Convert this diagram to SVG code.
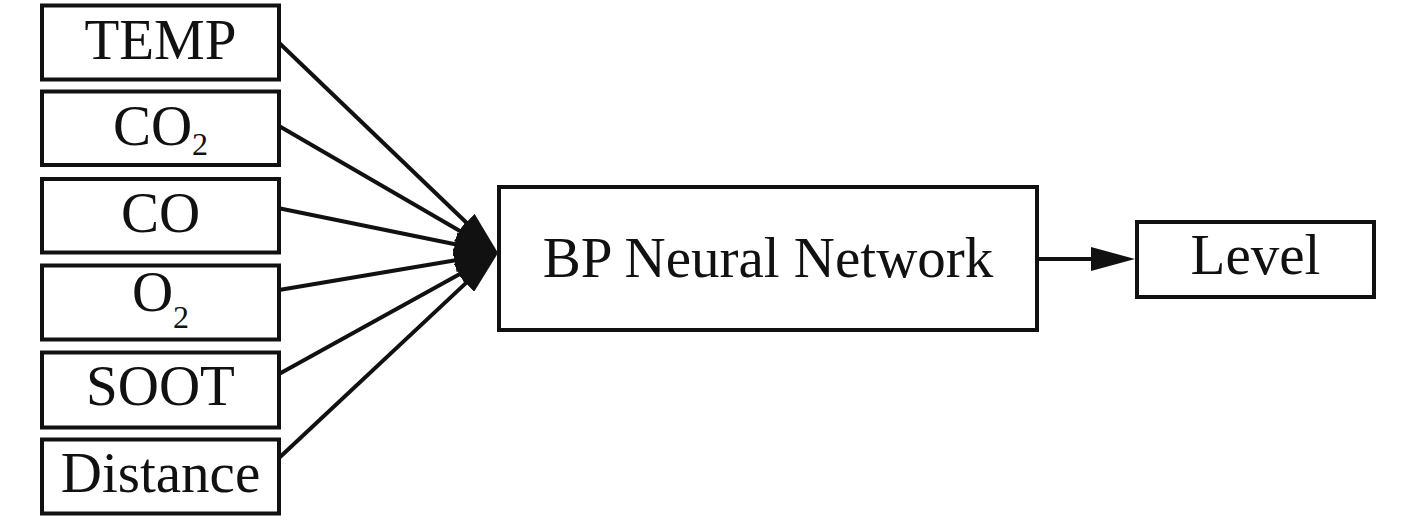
<svg xmlns="http://www.w3.org/2000/svg" width="1417" height="520" viewBox="0 0 1417 520">
  <style>
    .box { fill: #fff; stroke: #111; stroke-width: 4; }
    .lbl { font-family: "Liberation Serif", "Times New Roman", serif; font-size: 57px; fill: #111; text-anchor: middle; }
    .sub { font-size: 32px; }
    .edge { stroke: #111; stroke-width: 4; fill: none; marker-end: url(#arrow); }
  </style>
  <defs>
    <marker id="arrow" viewBox="0 0 44 24" markerWidth="44" markerHeight="24" markerUnits="userSpaceOnUse" refX="4" refY="12" orient="auto">
      <path d="M0,0 L44,12 L0,24 Z" fill="#111"/>
    </marker>
  </defs>
  <rect width="1417" height="520" fill="#fff"/>

  <g id="connectors">
    <line class="edge" x1="279" y1="42.7" x2="469.15" y2="225.29"/>
    <line class="edge" x1="279" y1="126" x2="463.40" y2="232.93"/>
    <line class="edge" x1="279" y1="208.3" x2="458.81" y2="245.00"/>
    <line class="edge" x1="279" y1="290" x2="458.56" y2="259.66"/>
    <line class="edge" x1="279" y1="374" x2="462.99" y2="272.34"/>
    <line class="edge" x1="279" y1="458" x2="468.80" y2="280.34"/>
    <line class="edge" x1="1039" y1="259" x2="1095" y2="259"/>
  </g>

  <g id="node-temp">
    <rect class="box" x="42" y="5.5" width="237" height="74"/>
    <text class="lbl" x="160.5" y="59">TEMP</text>
  </g>
  <g id="node-co2">
    <rect class="box" x="42" y="91.5" width="237" height="73.5"/>
    <text class="lbl" x="160.5" y="145">CO<tspan class="sub" dy="10">2</tspan></text>
  </g>
  <g id="node-co">
    <rect class="box" x="42" y="179" width="237" height="73.5"/>
    <text class="lbl" x="160.5" y="232">CO</text>
  </g>
  <g id="node-o2">
    <rect class="box" x="42" y="265.5" width="237" height="74"/>
    <text class="lbl" x="160.5" y="311">O<tspan class="sub" dy="17">2</tspan></text>
  </g>
  <g id="node-soot">
    <rect class="box" x="42" y="352.5" width="237" height="75"/>
    <text class="lbl" x="160.5" y="405">SOOT</text>
  </g>
  <g id="node-distance">
    <rect class="box" x="42" y="439.5" width="237" height="74"/>
    <text class="lbl" x="160.5" y="492">Distance</text>
  </g>
  <g id="node-bp">
    <rect class="box" x="499" y="187" width="538" height="143"/>
    <text class="lbl" x="768" y="277">BP Neural Network</text>
  </g>
  <g id="node-level">
    <rect class="box" x="1137" y="222" width="237" height="75"/>
    <text class="lbl" x="1255.5" y="274">Level</text>
  </g>
</svg>
